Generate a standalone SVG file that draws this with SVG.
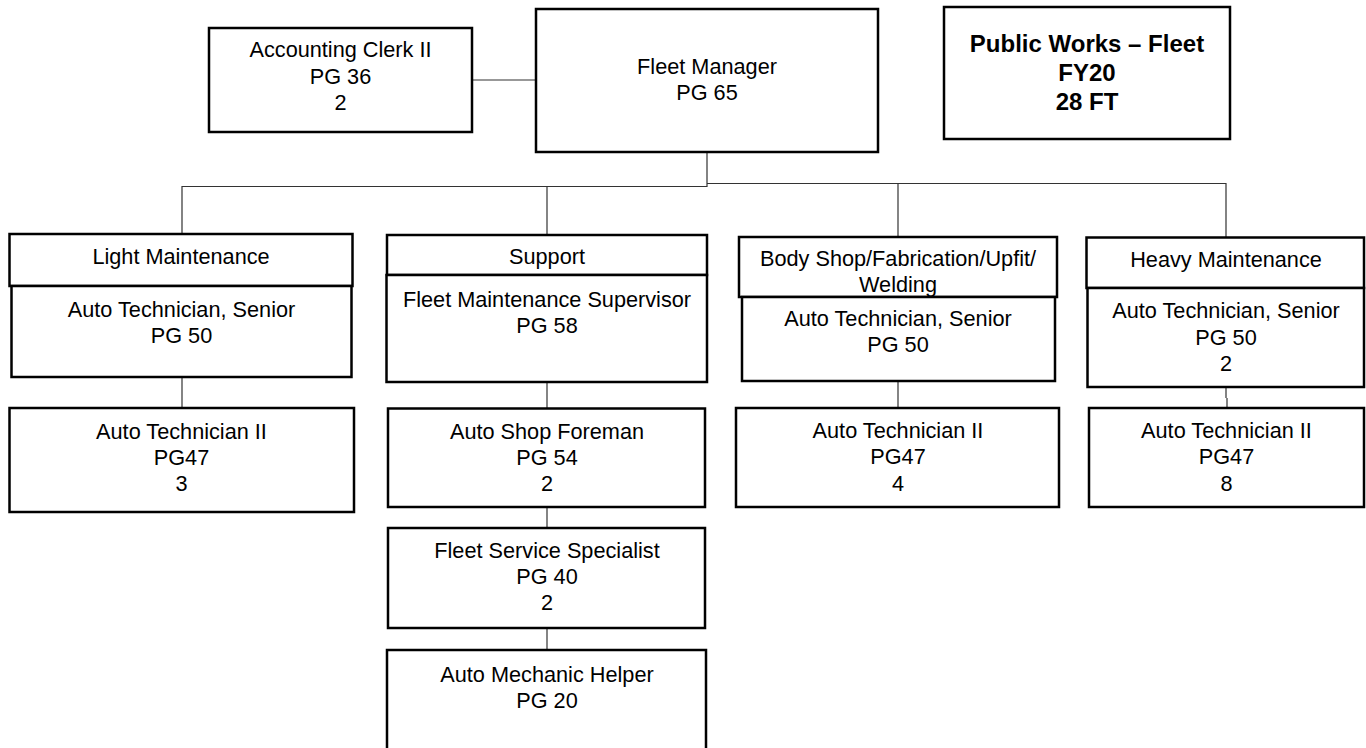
<svg xmlns="http://www.w3.org/2000/svg" width="1366" height="748" viewBox="0 0 1366 748">
  <style>
    .box { fill: #ffffff; stroke: #000000; stroke-width: 2.5; }
    .lbl { font-family: "Liberation Sans", Arial, sans-serif; font-size: 21.7px; fill: #000000; text-anchor: middle; }
    .title { font-family: "Liberation Sans", Arial, sans-serif; font-size: 24px; font-weight: bold; fill: #000000; text-anchor: middle; }
    .conn { fill: none; stroke: #333333; stroke-width: 1.2; }
  </style>
  <rect width="1366" height="748" fill="#ffffff"/>

  <!-- reporting lines -->
  <g id="connectors">
    <path class="conn" d="M473,80 H536"/>
    <path class="conn" d="M707,152 V186.5 H182 V234"/>
    <path class="conn" d="M547,186.5 V235"/>
    <path class="conn" d="M707,183.5 H1226 V237"/>
    <path class="conn" d="M898,183.5 V237"/>
    <path class="conn" d="M182,377 V408"/>
    <path class="conn" d="M547,382 V408"/>
    <path class="conn" d="M547,507 V528"/>
    <path class="conn" d="M547,628 V650"/>
    <path class="conn" d="M898,381 V408"/>
    <path class="conn" d="M1226,387 V398 M1227,398 V408"/>
  </g>

  <g id="accounting-clerk">
    <rect class="box" x="209" y="28" width="263" height="104"/>
    <text class="lbl" x="340.5" y="57">Accounting Clerk II</text>
    <text class="lbl" x="340.5" y="83.5">PG 36</text>
    <text class="lbl" x="340.5" y="110">2</text>
  </g>

  <g id="fleet-manager">
    <rect class="box" x="536" y="9" width="342" height="143"/>
    <text class="lbl" x="707" y="74">Fleet Manager</text>
    <text class="lbl" x="707" y="100">PG 65</text>
  </g>

  <g id="fleet-summary">
    <rect class="box" x="944" y="7" width="286" height="132"/>
    <text class="title" x="1087" y="52">Public Works – Fleet</text>
    <text class="title" x="1087" y="81">FY20</text>
    <text class="title" x="1087" y="110">28 FT</text>
  </g>

  <!-- Light Maintenance -->
  <g id="light-maintenance">
    <rect class="box" x="9.5" y="234" width="343" height="52"/>
    <text class="lbl" x="181" y="264">Light Maintenance</text>
  </g>
  <g id="light-senior-tech">
    <rect class="box" x="11.5" y="286" width="340" height="91"/>
    <text class="lbl" x="181.5" y="317">Auto Technician, Senior</text>
    <text class="lbl" x="181.5" y="343">PG 50</text>
  </g>
  <g id="light-tech-ii">
    <rect class="box" x="9.5" y="408" width="344.5" height="104"/>
    <text class="lbl" x="181.5" y="439">Auto Technician II</text>
    <text class="lbl" x="181.5" y="465">PG47</text>
    <text class="lbl" x="181.5" y="491">3</text>
  </g>

  <!-- Support -->
  <g id="support">
    <rect class="box" x="387" y="235" width="320" height="40"/>
    <text class="lbl" x="547" y="264">Support</text>
  </g>
  <g id="maintenance-supervisor">
    <rect class="box" x="386.5" y="275" width="320.5" height="107"/>
    <text class="lbl" x="547" y="307">Fleet Maintenance Supervisor</text>
    <text class="lbl" x="547" y="333">PG 58</text>
  </g>
  <g id="shop-foreman">
    <rect class="box" x="388" y="408.5" width="317" height="98.5"/>
    <text class="lbl" x="547" y="438.5">Auto Shop Foreman</text>
    <text class="lbl" x="547" y="464.5">PG 54</text>
    <text class="lbl" x="547" y="491">2</text>
  </g>
  <g id="service-specialist">
    <rect class="box" x="388" y="528" width="317" height="100"/>
    <text class="lbl" x="547" y="558">Fleet Service Specialist</text>
    <text class="lbl" x="547" y="584">PG 40</text>
    <text class="lbl" x="547" y="610">2</text>
  </g>
  <g id="mechanic-helper">
    <rect class="box" x="387" y="650" width="319" height="104"/>
    <text class="lbl" x="547" y="682">Auto Mechanic Helper</text>
    <text class="lbl" x="547" y="708">PG 20</text>
  </g>

  <!-- Body Shop -->
  <g id="body-shop">
    <rect class="box" x="739" y="237" width="318" height="60"/>
    <text class="lbl" x="898" y="266">Body Shop/Fabrication/Upfit/</text>
    <text class="lbl" x="898" y="292">Welding</text>
  </g>
  <g id="body-senior-tech">
    <rect class="box" x="742" y="297" width="313" height="84"/>
    <text class="lbl" x="898" y="326">Auto Technician, Senior</text>
    <text class="lbl" x="898" y="352">PG 50</text>
  </g>
  <g id="body-tech-ii">
    <rect class="box" x="736" y="408" width="323" height="99"/>
    <text class="lbl" x="898" y="438">Auto Technician II</text>
    <text class="lbl" x="898" y="464">PG47</text>
    <text class="lbl" x="898" y="491">4</text>
  </g>

  <!-- Heavy Maintenance -->
  <g id="heavy-maintenance">
    <rect class="box" x="1086.5" y="237.5" width="277.5" height="50.5"/>
    <text class="lbl" x="1226" y="267">Heavy Maintenance</text>
  </g>
  <g id="heavy-senior-tech">
    <rect class="box" x="1087.5" y="288" width="276.5" height="99"/>
    <text class="lbl" x="1226" y="318">Auto Technician, Senior</text>
    <text class="lbl" x="1226" y="345">PG 50</text>
    <text class="lbl" x="1226" y="371">2</text>
  </g>
  <g id="heavy-tech-ii">
    <rect class="box" x="1089" y="408" width="275" height="99"/>
    <text class="lbl" x="1226.5" y="438">Auto Technician II</text>
    <text class="lbl" x="1226.5" y="464">PG47</text>
    <text class="lbl" x="1226.5" y="491">8</text>
  </g>
</svg>
